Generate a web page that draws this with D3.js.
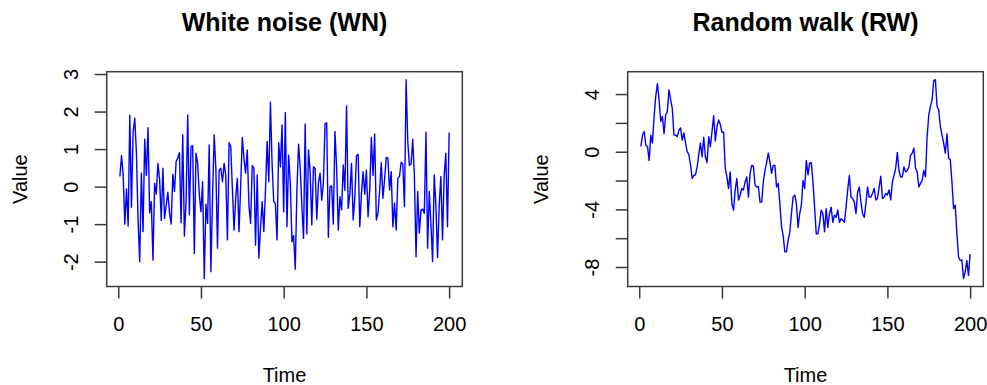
<!DOCTYPE html>
<html>
<head>
<meta charset="utf-8">
<script src="https://d3js.org/d3.v7.min.js"></script>
<style>
    body { margin: 0; background: #ffffff; }
    text { font-family: "Liberation Sans", Arial, Helvetica, sans-serif; fill: #000000; }
    .title { font-size: 25px; font-weight: bold; }
    .tickText, .axisLabel { font-size: 20px; }
</style>
</head>
<body>
<div id="container"></div>
<script>

// data (t = 1..200)
var wnValues = [
    0.27, 0.83, 0.3, -1.0, -0.06, -1.05, 1.9, -0.55, 1.45, 1.82,
    0.9, -0.9, -2.0, 0.36, -1.2, 1.26, 0.3, 1.57, -0.7, -0.4,
    -1.96, 0.09, -0.2, 0.62, 0.2, -0.9, 0.49, -0.85, -0.5, -0.15,
    -0.7, -1.0, 0.33, -0.13, 0.67, 0.76, 0.9, -0.96, 1.38, -1.32,
    -0.4, 1.91, -0.75, 1.07, 1.09, -1.78, 0.89, 0.62, -0.2, -0.67,
    0.13, -2.45, -0.47, -0.98, 1.11, -2.27, -0.3, 1.38, 0.5, -1.64,
    0.44, 0.49, 0.13, 0.62, 0.3, -1.42, 1.17, 1.07, -0.05, -1.16,
    -0.3, 0.22, -1.2, 0.0, 1.31, 0.75, 0.36, 0.98, -0.5, -0.98,
    0.56, 0.5, -1.56, 0.31, -1.91, -1.1, -0.4, -1.2, -0.1, 1.2,
    0.13, 2.25, 0.6, -0.4, -0.45, -1.42, 1.17, 0.53, 1.64, -0.67,
    1.97, -1.07, 0.84, 0.1, -1.47, -1.3, -2.2, -0.1, 1.13, 0.5,
    -0.53, -1.38, 1.67, -1.26, 0.98, 0.4, -1.02, 0.53, 0.49, -0.87,
    0.1, 0.36, -0.36, 0.1, 1.67, 1.7, -1.35, 0.0, 0.02, -1.0,
    1.47, 0.5, -1.16, -0.27, -0.62, 0.58, -0.1, 2.15, -0.58, -0.2,
    0.62, -0.89, -0.3, 0.82, 0.86, -1.07, -0.2, 0.4, -0.2, 0.44,
    -0.8, -0.1, 1.31, 0.3, 1.4, -0.89, -0.71, -0.1, 0.64, -0.31,
    0.2, 0.78, 0.76, -0.09, 0.4, -1.07, -0.44, -1.16, 0.22, 0.27,
    0.65, 0.6, -0.53, 2.85, 1.2, 0.56, 0.6, 1.26, 0.3, -1.87,
    -0.13, -1.24, -0.62, -0.6, -0.71, 1.45, -1.64, -0.13, -1.0, -2.0,
    0.31, -0.5, -1.89, -0.5, 0.27, -1.42, 0.3, 0.89, -1.07, 1.44
];

var rwValues = [
    0.35, 1.15, 1.4, 0.45, 0.35, -0.6, 1.15, 0.6, 2.45, 3.85,
    4.72, 3.6, 2.1, 2.45, 1.25, 2.55, 2.8, 4.3, 3.6, 3.0,
    1.15, 1.15, 1.05, 1.5, 1.65, 0.8, 1.3, 0.6, 0.0, -0.2,
    -0.9, -1.85, -1.65, -1.6, -1.05, -0.2, 0.6, -0.35, 1.0, -0.35,
    -0.75, 1.05, 0.35, 1.4, 2.5, 0.75, 1.75, 2.2, 1.9, 1.35,
    1.35, -1.15, -1.75, -2.55, -1.4, -3.6, -4.05, -2.65, -1.85, -3.35,
    -3.0, -2.55, -2.65, -2.1, -1.75, -3.15, -1.5, -0.95, -1.0, -2.3,
    -2.45, -2.4, -3.5, -3.5, -2.1, -1.3, -0.75, -0.1, -0.7, -1.5,
    -0.95, -0.95, -2.45, -2.2, -3.6, -5.2, -5.8, -6.95, -6.95, -6.15,
    -5.6, -4.3, -3.15, -3.0, -3.6, -5.25, -4.3, -3.7, -2.0, -2.55,
    -0.6, -1.6, -0.8, -0.75, -2.1, -3.85, -5.7, -5.7, -5.0, -4.05,
    -4.3, -5.55, -3.95, -5.25, -4.3, -3.85, -4.9, -4.4, -4.55, -4.05,
    -4.9, -4.65, -4.75, -4.9, -3.85, -2.65, -1.65, -3.15, -3.25, -3.5,
    -4.3, -2.8, -2.45, -3.5, -4.3, -4.55, -3.6, -2.45, -3.15, -3.15,
    -2.9, -2.55, -3.35, -3.25, -2.45, -1.7, -3.25, -3.15, -2.9, -3.0,
    -2.65, -3.35, -2.1, -1.65, -1.15, -0.05, -1.3, -1.75, -1.75, -1.05,
    -1.4, -1.3, -1.05, -0.25, -0.1, 0.25, -1.15, -1.4, -2.45, -2.2,
    -2.0, -1.3, -1.75, 1.05, 2.55, 3.15, 3.6, 4.95, 5.0, 3.15,
    2.9, 1.75, 1.15, 0.6, -0.1, 1.25, -0.45, -0.55, -2.1, -3.95,
    -3.7, -5.7, -7.3, -7.55, -7.5, -8.8, -8.35, -7.55, -8.6, -7.1
];

// tick values
var timeTicks = [0, 50, 100, 150, 200];
var wnTicks = [-2, -1, 0, 1, 2, 3];
var rwTicks = [-8, -6, -4, -2, 0, 2, 4];
var rwTickLabels = [-8, -4, 0, 4];

// set variables for layout
var canvasX = 987;
var canvasY = 385;
var boxTop = 71.7;
var boxBottom = 286.5;
var tickLength = 12;

// make svg
var svg = d3.select("#container")
            .append("svg")
            .attr("width", canvasX)
            .attr("height", canvasY);

drawPanel(106.7, 462.3, wnValues, wnTicks, wnTicks, "White noise (WN)");
drawPanel(627.7, 983.3, rwValues, rwTicks, rwTickLabels, "Random walk (RW)");

// R style range: data extent plus 4% on both sides
function padDomain(extent) {
    var pad = (extent[1] - extent[0]) * 0.04;
    return [extent[0] - pad, extent[1] + pad];
}

// draws one plot panel
function drawPanel(left, right, values, yTicks, yLabels, title) {
    var g = svg.append("g");

    var xScale = d3.scaleLinear()
                   .domain(padDomain([1, values.length]))
                   .range([left, right]);

    var yScale = d3.scaleLinear()
                   .domain(padDomain(d3.extent(values)))
                   .range([boxBottom, boxTop]);

    // x axis
    var xAxis = d3.axisBottom(xScale)
                  .tickValues(timeTicks)
                  .tickSize(tickLength)
                  .tickSizeOuter(0)
                  .tickPadding(18);

    var gx = g.append("g")
              .attr("transform", "translate(0," + boxBottom + ")")
              .call(xAxis);
    styleAxis(gx);

    // y axis
    var yAxis = d3.axisLeft(yScale)
                  .tickValues(yTicks)
                  .tickSize(tickLength)
                  .tickSizeOuter(0)
                  .tickFormat(function(d) {
                      return yLabels.indexOf(d) >= 0 ? d : "";
                  });

    var gy = g.append("g")
              .attr("transform", "translate(" + left + ",0)")
              .call(yAxis);
    styleAxis(gy);

    // rotate y tick labels like R does
    gy.selectAll("text")
      .attr("transform", "rotate(-90)")
      .attr("x", 0)
      .attr("y", -29)
      .attr("dy", 0)
      .attr("text-anchor", "middle");

    // line
    var line = d3.line()
                 .x(function(d, i) { return xScale(i + 1); })
                 .y(function(d) { return yScale(d); });

    g.append("path")
     .datum(values)
     .attr("d", line)
     .attr("fill", "none")
     .attr("stroke", "#0000ff")
     .attr("stroke-width", 1.4)
     .attr("stroke-linejoin", "round");

    // box around plot
    g.append("rect")
     .attr("x", left)
     .attr("y", boxTop)
     .attr("width", right - left)
     .attr("height", boxBottom - boxTop)
     .attr("fill", "none")
     .attr("stroke", "#3a3a3a")
     .attr("stroke-width", 1.5);

    var center = (left + right) / 2;

    // title
    g.append("text")
     .attr("class", "title")
     .attr("x", center)
     .attr("y", 31)
     .attr("text-anchor", "middle")
     .text(title);

    // x label
    g.append("text")
     .attr("class", "axisLabel")
     .attr("x", center)
     .attr("y", 382)
     .attr("text-anchor", "middle")
     .text("Time");

    // y label
    g.append("text")
     .attr("class", "axisLabel")
     .attr("transform", "translate(" + (left - 80) + "," + ((boxTop + boxBottom) / 2) + ") rotate(-90)")
     .attr("text-anchor", "middle")
     .text("Value");
}

// axis look
function styleAxis(axis) {
    axis.select(".domain").remove();
    axis.selectAll("line")
        .attr("stroke", "#3a3a3a")
        .attr("stroke-width", 1.5);
    axis.selectAll("text")
        .attr("class", "tickText")
        .attr("fill", "#000000")
        .style("font-size", "20px")
        .style("font-family", "'Liberation Sans', Arial, sans-serif");
}
</script>
</body>
</html>
